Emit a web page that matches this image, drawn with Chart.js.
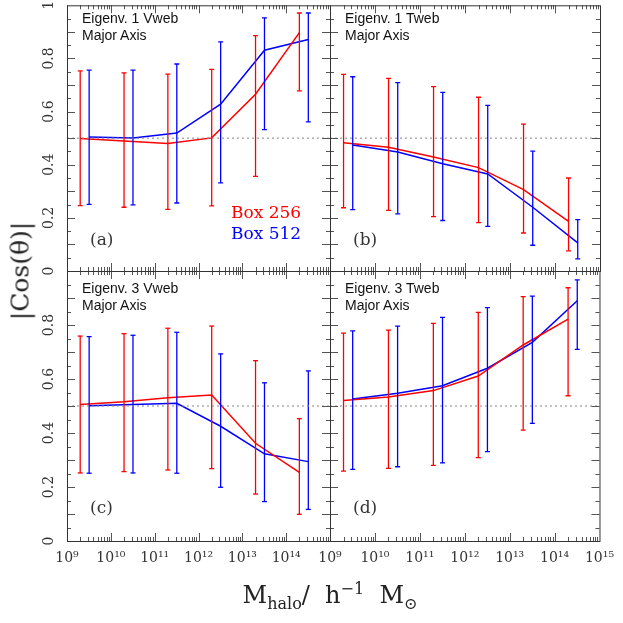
<!DOCTYPE html>
<html>
<head>
<meta charset="utf-8">
<script src="https://cdn.jsdelivr.net/npm/chart.js@4/dist/chart.umd.min.js"></script>
<style>
body { margin: 0; background: #fff; }
#wrap { position: relative; width: 623px; height: 623px; overflow: hidden; }
canvas { position: absolute; left: 0; top: 0; }
.tag { position: absolute; font-family: "Liberation Sans", Arial, sans-serif; font-size: 14px; line-height: 16.5px; color: #111; white-space: nowrap; }
.let { position: absolute; font-family: "DejaVu Serif", serif; font-size: 17px; line-height: 17px; color: #333; }
.box { position: absolute; font-family: "DejaVu Serif", serif; font-size: 17px; line-height: 21px; white-space: nowrap; }
#ytitle { position: absolute; left: 20px; top: 271px; transform: translate(-50%, -50%) rotate(-90deg); font-family: "DejaVu Serif", serif; font-size: 25px; white-space: nowrap; color: #222; }
#xtitle { position: absolute; left: 330px; top: 579px; transform: translateX(-50%); font-family: "DejaVu Serif", serif; font-size: 24px; white-space: nowrap; color: #222; }
#xtitle sub, #xtitle sup { font-size: 16px; }
</style>
</head>
<body>
<div id="wrap">
  <canvas id="pa" width="623" height="623"></canvas>
  <canvas id="pb" width="623" height="623"></canvas>
  <canvas id="pc" width="623" height="623"></canvas>
  <canvas id="pd" width="623" height="623"></canvas>

  <div class="tag" style="left:82px; top:10px;">Eigenv. 1 Vweb<br>Major Axis</div>
  <div class="tag" style="left:345px; top:10px;">Eigenv. 1 Tweb<br>Major Axis</div>
  <div class="tag" style="left:82px; top:280px;">Eigenv. 3 Vweb<br>Major Axis</div>
  <div class="tag" style="left:345px; top:280px;">Eigenv. 3 Tweb<br>Major Axis</div>

  <div class="let" style="left:90px; top:231px;">(a)</div>
  <div class="let" style="left:353px; top:231px;">(b)</div>
  <div class="let" style="left:90px; top:499px;">(c)</div>
  <div class="let" style="left:353px; top:499px;">(d)</div>

  <div class="box" style="left:231px; top:202px; color:#ff0000;">Box 256</div>
  <div class="box" style="left:231px; top:223px; color:#0000ff;">Box 512</div>

  <div id="ytitle">|Cos(θ)|</div>
  <div id="xtitle">M<sub>halo</sub>/&nbsp; h<sup>−1</sup>&nbsp; M<sub>⊙</sub></div>
</div>

<script>
// halo mass bins (red = Box 256, blue = Box 512, slightly offset)
var massRed = [2e9, 2e10, 2e11, 2e12, 2e13, 2e14];
var massBlue = [3.2e9, 3.2e10, 3.2e11, 3.2e12, 3.2e13, 3.2e14];

var xTickVals = [1e9, 1e10, 1e11, 1e12, 1e13, 1e14, 1e15];
var xTickLabels = ['10⁹', '10¹⁰', '10¹¹', '10¹²', '10¹³', '10¹⁴', '10¹⁵'];
var yTickVals = [0, 0.2, 0.4, 0.6, 0.8, 1];
var yTickLabels = ['0', '0.2', '0.4', '0.6', '0.8', '1'];

// (a) Eigenv. 1 Vweb
var aRed = [0.499, 0.489, 0.480, 0.501, 0.665, 0.897];
var aRedLo = [0.246, 0.240, 0.232, 0.245, 0.356, 0.678];
var aRedHi = [0.753, 0.746, 0.741, 0.759, 0.886, 0.971];
var aBlue = [0.504, 0.501, 0.519, 0.628, 0.831, 0.871];
var aBlueLo = [0.251, 0.249, 0.256, 0.332, 0.532, 0.561];
var aBlueHi = [0.756, 0.756, 0.779, 0.862, 0.953, 0.971];

// (b) Eigenv. 1 Tweb
var bRed = [0.483, 0.466, 0.429, 0.389, 0.306, 0.187];
var bRedLo = [0.238, 0.228, 0.205, 0.182, 0.143, 0.076];
var bRedHi = [0.740, 0.725, 0.694, 0.654, 0.553, 0.350];
var bBlue = [0.474, 0.448, 0.404, 0.365, 0.240, 0.106];
var bBlueLo = [0.231, 0.215, 0.190, 0.168, 0.097, 0.046];
var bBlueHi = [0.731, 0.709, 0.672, 0.623, 0.451, 0.193];

// (c) Eigenv. 3 Vweb
var cRed = [0.506, 0.516, 0.531, 0.541, 0.362, 0.254];
var cRedLo = [0.252, 0.257, 0.263, 0.268, 0.174, 0.099];
var cRedHi = [0.759, 0.768, 0.788, 0.796, 0.668, 0.453];
var cBlue = [0.501, 0.506, 0.510, 0.425, 0.323, 0.294];
var cBlueLo = [0.251, 0.252, 0.251, 0.199, 0.146, 0.117];
var cBlueHi = [0.757, 0.762, 0.773, 0.693, 0.586, 0.630];

// (d) Eigenv. 3 Tweb
var dRed = [0.520, 0.533, 0.557, 0.611, 0.726, 0.822];
var dRedLo = [0.259, 0.269, 0.280, 0.309, 0.411, 0.538];
var dRedHi = [0.770, 0.781, 0.806, 0.847, 0.905, 0.938];
var dBlue = [0.526, 0.547, 0.575, 0.640, 0.736, 0.890];
var dBlueLo = [0.265, 0.275, 0.289, 0.331, 0.436, 0.710];
var dBlueHi = [0.778, 0.796, 0.828, 0.864, 0.907, 0.967];

var RED = '#ff0000', BLUE = '#0000ff';
var SIZE = 623;

// frame, inward ticks and rotated y labels
var framePlugin = {
  id: 'frame',
  afterDraw: function(chart, args, o) {
    var ctx = chart.ctx, a = chart.chartArea;
    var xs = chart.scales.x, ys = chart.scales.y;
    ctx.save();
    ctx.strokeStyle = '#555';
    ctx.lineWidth = 1;
    ctx.beginPath();
    for (var e = 9; e < 15; e++) {
      for (var k = 1; k < 10; k++) {
        var px = Math.round(xs.getPixelForValue(k * Math.pow(10, e))) + 0.5;
        var len = k == 1 ? 8 : 4;
        ctx.moveTo(px, a.bottom); ctx.lineTo(px, a.bottom - len);
        ctx.moveTo(px, a.top); ctx.lineTo(px, a.top + len);
      }
    }
    for (var i = 1; i < 20; i++) {
      var py = Math.round(ys.getPixelForValue(i * 0.05)) + 0.5;
      var l = i % 2 == 0 ? 8 : 4;
      ctx.moveTo(a.left, py); ctx.lineTo(a.left + l, py);
      ctx.moveTo(a.right, py); ctx.lineTo(a.right - l, py);
    }
    ctx.stroke();
    ctx.strokeStyle = '#333';
    ctx.strokeRect(a.left + 0.5, a.top + 0.5, a.right - a.left, a.bottom - a.top);

    if (o.yLabels) {
      ctx.fillStyle = '#333';
      ctx.font = '14px "DejaVu Serif", serif';
      ctx.textAlign = 'center';
      ctx.textBaseline = 'middle';
      for (var j = 0; j < yTickVals.length; j++) {
        if (o.skipTop && j == yTickVals.length - 1) continue;
        ctx.save();
        ctx.translate(49, ys.getPixelForValue(yTickVals[j]));
        ctx.rotate(-Math.PI / 2);
        ctx.fillText(yTickLabels[j], 0, 0);
        ctx.restore();
      }
    }
    ctx.restore();
  }
};

function errBars(ds, mass, lo, hi, col) {
  for (var i = 0; i < mass.length; i++) {
    ds.push({
      data: [{x: mass[i], y: lo[i]}, {x: mass[i], y: hi[i]}],
      borderColor: col, borderWidth: 1.3,
      pointStyle: 'line', pointRadius: 2.5, pointBorderWidth: 1.3,
      pointBorderColor: col
    });
  }
}

function makePanel(id, box, red, redLo, redHi, blue, blueLo, blueHi, opt) {
  var ds = [];
  ds.push({
    data: [{x: 1e9, y: 0.5}, {x: 1e15, y: 0.5}],
    borderColor: '#888', borderWidth: 1, borderDash: [2, 3], pointRadius: 0
  });
  errBars(ds, massRed, redLo, redHi, RED);
  errBars(ds, massBlue, blueLo, blueHi, BLUE);
  ds.push({
    data: massRed.map(function(m, i) { return {x: m, y: red[i]}; }),
    borderColor: RED, borderWidth: 1.5, pointRadius: 0
  });
  ds.push({
    data: massBlue.map(function(m, i) { return {x: m, y: blue[i]}; }),
    borderColor: BLUE, borderWidth: 1.5, pointRadius: 0
  });

  var xH = opt.showX ? 30 : 0;

  new Chart(document.getElementById(id), {
    type: 'line',
    data: { datasets: ds },
    options: {
      responsive: false,
      animation: false,
      events: [],
      layout: {
        padding: { left: box[0], top: box[1], right: SIZE - box[2], bottom: SIZE - box[3] - xH }
      },
      plugins: {
        legend: { display: false },
        tooltip: { enabled: false },
        frame: { yLabels: opt.showY, skipTop: opt.skipTop }
      },
      scales: {
        x: {
          type: 'logarithmic',
          min: 1e9, max: 1e15,
          grid: { display: false, drawTicks: false },
          border: { display: false },
          afterBuildTicks: function(s) {
            s.ticks = xTickVals.map(function(v) { return {value: v}; });
          },
          afterFit: function(s) { s.height = xH; },
          ticks: {
            display: opt.showX,
            autoSkip: false,
            maxRotation: 0,
            padding: 9,
            color: '#333',
            font: { family: '"DejaVu Serif", serif', size: 14 },
            callback: function(v, i) {
              if (opt.skipLast && i == xTickVals.length - 1) return '';
              return xTickLabels[i];
            }
          }
        },
        y: {
          min: 0, max: 1,
          grid: { display: false, drawTicks: false },
          border: { display: false },
          ticks: { display: false },
          afterFit: function(s) { s.width = 0; }
        }
      }
    },
    plugins: [framePlugin]
  });
}

makePanel('pa', [67, 3, 330, 271], aRed, aRedLo, aRedHi, aBlue, aBlueLo, aBlueHi,
  { showX: false, showY: true, skipTop: false, skipLast: true });
makePanel('pb', [330, 3, 600, 271], bRed, bRedLo, bRedHi, bBlue, bBlueLo, bBlueHi,
  { showX: false, showY: false });
makePanel('pc', [67, 271, 330, 541], cRed, cRedLo, cRedHi, cBlue, cBlueLo, cBlueHi,
  { showX: true, showY: true, skipTop: true, skipLast: true });
makePanel('pd', [330, 271, 600, 541], dRed, dRedLo, dRedHi, dBlue, dBlueLo, dBlueHi,
  { showX: true, showY: false });
</script>
</body>
</html>
